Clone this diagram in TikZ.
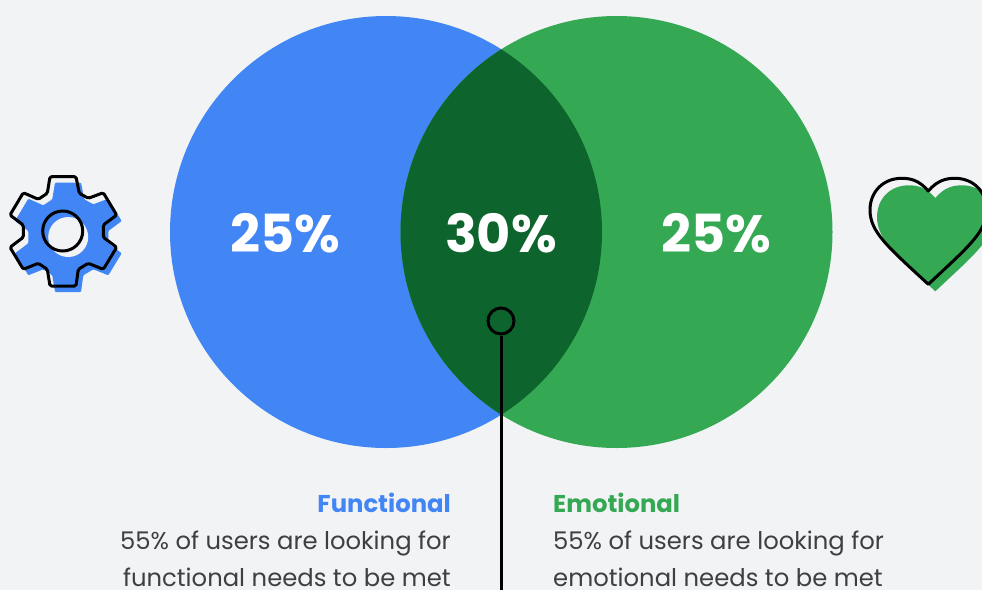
\documentclass[tikz,border=0pt]{standalone}
\usepackage{fontspec}
\setmainfont{Poppins}
\definecolor{bgc}{HTML}{F1F3F4}
\definecolor{gblue}{HTML}{4285F4}
\definecolor{ggreen}{HTML}{34A853}
\definecolor{gdark}{HTML}{0D652D}
\definecolor{gtext}{HTML}{3C4043}
\tikzset{
  pct/.style={text=white,font=\fontsize{52.5}{52.5}\selectfont\bfseries,anchor=base,inner sep=0pt},
  head/.style={font=\fontsize{24.3}{25}\selectfont\bfseries,inner sep=0pt},
  body/.style={text=gtext,font=\fontsize{24.3}{25}\selectfont,inner sep=0pt},
  ink/.style={draw=black,line width=3pt,line join=round},
}
\def\gearpath{(50,16.7)--(76,16.7)--(79.3,33.3)--(88.3,38.3)--(103.3,32.7)--(116.7,55)--(103.3,65)--(103.3,77.3)--(116.7,87.3)--(103.3,109.3)--(88.3,103.3)--(78.3,109.3)--(76,126)--(50,126)--(47.3,109.3)--(38.3,103.3)--(23.3,109.3)--(10,87.3)--(23.3,77.3)--(23.3,65)--(10,55)--(23.3,32.7)--(38.3,39.3)--(47.3,33.3)--cycle}
\def\heartpath{(928.3,191) .. controls (919,180) and (910,178.3) .. (901.7,178.3) .. controls (883,178.3) and (870,192) .. (870,210) .. controls (870,232) and (888,247) .. (928.3,284.3) .. controls (968,247) and (986.6,232) .. (986.6,210) .. controls (986.6,192) and (973.6,178.3) .. (955,178.3) .. controls (946.6,178.3) and (937.6,180) .. (928.3,191) -- cycle}
\begin{document}
\begin{tikzpicture}[x=1pt,y=-1pt]
\useasboundingbox (0,0) rectangle (982,590);
\fill[bgc] (0,0) rectangle (982,590);
% venn
\fill[gblue] (386,232) circle[radius=216];
\fill[ggreen] (616.5,232) circle[radius=216];
\begin{scope}
  \clip (386,232) circle[radius=216];
  \fill[gdark] (616.5,232) circle[radius=216];
\end{scope}
\node[pct] (a) at (285,252) {25\%};
\node[pct] (b) at (501,252) {30\%};
\node[pct] (c) at (716,252) {25\%};
% connector
\node[draw=black,line width=3pt,circle,minimum size=26pt,inner sep=0pt] (ring) at (501,321) {};
\coordinate (lineend) at (501,590);
\draw[black,line width=3pt] (ring.south) -- (lineend);
% gear
\begin{scope}[shift={(0,160)}]
  \begin{scope}[shift={(5,6)}]
    \fill[gblue,rounded corners=1pt] \gearpath;
  \end{scope}
  \fill[bgc] (68.2,77) circle[radius=20];
  \draw[ink,rounded corners=1.5pt] \gearpath;
  \draw[ink] (62.7,71) circle[radius=20];
\end{scope}
% heart
\begin{scope}
  \clip (0,0) rectangle (982,590);
  \begin{scope}[shift={(7,7)}]
    \fill[ggreen] \heartpath;
  \end{scope}
  \draw[ink] \heartpath;
\end{scope}
% text
\node[head,text=gblue,anchor=base east] (t1) at (451,512) {Functional};
\node[body,anchor=base east] (t2) at (451,549) {55\% of users are looking for};
\node[body,anchor=base east] (t3) at (451,586) {functional needs to be met};
\node[head,text=ggreen,anchor=base west] (t4) at (553,512) {Emotional};
\node[body,anchor=base west] (t5) at (553,549) {55\% of users are looking for};
\node[body,anchor=base west] (t6) at (553,586) {emotional needs to be met};
\end{tikzpicture}
\end{document}
